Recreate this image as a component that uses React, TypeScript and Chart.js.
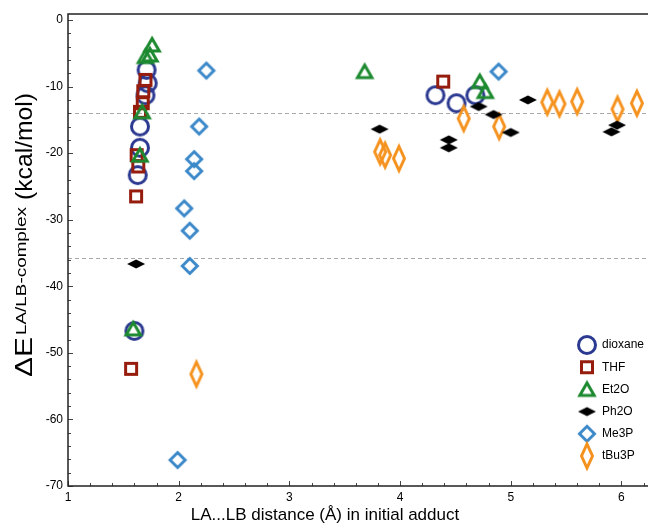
import React, { useEffect, useRef } from "react";
import { Chart, registerables } from "chart.js";

Chart.register(...registerables);

const FONT = "'Liberation Sans', Arial, Helvetica, sans-serif";

const seriesNames = ["dioxane", "THF", "Et2O", "Ph2O", "Me3P", "tBu3P"];
const seriesColors = ["#2b3990", "#961c0e", "#1d8a30", "#000000", "#3b88c9", "#f5921e"];

const dioxaneX = [1.71, 1.72, 1.70, 1.65, 1.65, 1.63, 1.60, 4.32, 4.51, 4.68];
const dioxaneY = [-7.5, -9.5, -11.3, -16.0, -19.2, -23.3, -46.7, -11.3, -12.5, -11.3];

const thfX = [1.70, 1.68, 1.675, 1.65, 1.62, 1.635, 1.615, 1.57, 4.39];
const thfY = [-9.0, -10.7, -12.5, -13.8, -20.3, -22.0, -26.5, -52.4, -9.25];

const et2oX = [1.76, 1.70, 1.74, 1.67, 1.65, 1.59, 3.68, 4.72, 4.77];
const et2oY = [-3.75, -5.5, -5.25, -13.8, -20.3, -46.4, -7.75, -9.25, -10.75];

const ph2oX = [1.615, 3.815, 4.44, 4.44, 4.71, 4.845, 5.0, 5.155, 5.96, 5.91];
const ph2oY = [-36.65, -16.4, -18.0, -19.2, -13.0, -14.2, -16.9, -12.0, -15.8, -16.8];

const me3pX = [2.25, 2.185, 2.14, 2.14, 2.05, 2.10, 2.10, 1.99, 4.89];
const me3pY = [-7.6, -16.0, -20.9, -22.7, -28.3, -31.65, -36.95, -66.1, -7.75];

const tbu3pX = [2.16, 3.82, 3.865, 3.99, 4.575, 4.895, 5.33, 5.44, 5.60, 5.965, 6.14];
const tbu3pY = [-53.2, -19.8, -20.3, -20.8, -14.8, -16.0, -12.35, -12.6, -12.25, -13.4, -12.5];

const xTickValues = [1, 2, 3, 4, 5, 6];
const yTickValues = [0, -10, -20, -30, -40, -50, -60, -70];
const referenceLines = [-14, -35.8];

const xTitle = "LA...LB distance (Å) in initial adduct";
const yTitleMain = "ΔE";
const yTitleSup = "LA/LB-complex";
const yTitleUnit = "(kcal/mol)";

function makeMarker(kind: string, color: string): HTMLCanvasElement {
  const c = document.createElement("canvas");
  const ctx = c.getContext("2d") as CanvasRenderingContext2D;
  const setup = (w: number, h: number) => {
    c.width = w;
    c.height = h;
    ctx.strokeStyle = color;
    ctx.fillStyle = color;
    ctx.lineWidth = 3;
    ctx.lineJoin = "miter";
  };
  if (kind === "circle") {
    setup(24, 24);
    ctx.beginPath();
    ctx.arc(12, 12, 8.5, 0, Math.PI * 2);
    ctx.stroke();
  } else if (kind === "square") {
    setup(16, 16);
    ctx.strokeRect(2.5, 2.5, 11, 11);
  } else if (kind === "triangle") {
    setup(22, 22);
    ctx.beginPath();
    ctx.moveTo(11, 4.5);
    ctx.lineTo(18.2, 17);
    ctx.lineTo(3.8, 17);
    ctx.closePath();
    ctx.stroke();
  } else if (kind === "flatDiamond") {
    setup(20, 12);
    ctx.beginPath();
    ctx.moveTo(1, 6);
    ctx.lineTo(10, 1.5);
    ctx.lineTo(19, 6);
    ctx.lineTo(10, 10.5);
    ctx.closePath();
    ctx.fill();
  } else if (kind === "diamond") {
    setup(22, 22);
    ctx.beginPath();
    ctx.moveTo(11, 3.5);
    ctx.lineTo(18.5, 11);
    ctx.lineTo(11, 18.5);
    ctx.lineTo(3.5, 11);
    ctx.closePath();
    ctx.stroke();
  } else {
    setup(18, 32);
    ctx.beginPath();
    ctx.moveTo(9, 4);
    ctx.lineTo(14.5, 16);
    ctx.lineTo(9, 28);
    ctx.lineTo(3.5, 16);
    ctx.closePath();
    ctx.stroke();
  }
  return c;
}

const markerKinds = ["circle", "square", "triangle", "flatDiamond", "diamond", "tallDiamond"];

export default function App() {
  const canvasRef = useRef<HTMLCanvasElement | null>(null);

  useEffect(() => {
    const canvas = canvasRef.current;
    if (!canvas) return;
    const xs = [dioxaneX, thfX, et2oX, ph2oX, me3pX, tbu3pX];
    const ys = [dioxaneY, thfY, et2oY, ph2oY, me3pY, tbu3pY];
    const markers = markerKinds.map((k, i) => makeMarker(k, seriesColors[i]));
    const drawOrder = [6, 5, 4, 1, 3, 2];

    const datasets = seriesNames.map((name, i) => ({
      label: name,
      data: xs[i].map((x, j) => ({ x, y: ys[i][j] })),
      pointStyle: markers[i] as any,
      pointRadius: 6,
      borderColor: seriesColors[i],
      backgroundColor: seriesColors[i],
      showLine: false,
      clip: false as any,
      order: drawOrder[i],
    }));

    const decor = {
      id: "decor",
      beforeDatasetsDraw(chart: any) {
        const { ctx, chartArea } = chart;
        const yScale = chart.scales.y;
        ctx.save();
        ctx.strokeStyle = "#a8a8a8";
        ctx.lineWidth = 1;
        ctx.setLineDash([4, 3]);
        referenceLines.forEach((v) => {
          const py = Math.round(yScale.getPixelForValue(v)) + 0.5;
          ctx.beginPath();
          ctx.moveTo(chartArea.left, py);
          ctx.lineTo(chartArea.right, py);
          ctx.stroke();
        });
        ctx.restore();
      },
      afterDraw(chart: any) {
        const { ctx, chartArea } = chart;
        const xScale = chart.scales.x;
        const yScale = chart.scales.y;
        const L = chartArea.left;
        const B = chartArea.bottom;
        const T = chartArea.top;
        const R = chartArea.right;
        ctx.save();
        // ticks (inward)
        ctx.strokeStyle = "#444";
        ctx.lineWidth = 1;
        for (let k = 0; k <= 26; k++) {
          const v = 1 + k * 0.2;
          if (v > 6.24) break;
          const px = Math.round(xScale.getPixelForValue(v)) + 0.5;
          const len = k % 5 === 0 ? 5 : 3;
          ctx.beginPath();
          ctx.moveTo(px, B);
          ctx.lineTo(px, B - len);
          ctx.stroke();
        }
        for (let k = 0; k <= 35; k++) {
          const v = -k * 2;
          const py = Math.round(yScale.getPixelForValue(v)) + 0.5;
          const len = k % 5 === 0 ? 5 : 3;
          ctx.beginPath();
          ctx.moveTo(L, py);
          ctx.lineTo(L + len, py);
          ctx.stroke();
        }
        // axes and top border
        ctx.strokeStyle = "#222";
        ctx.lineWidth = 1.5;
        ctx.beginPath();
        ctx.moveTo(R, T);
        ctx.lineTo(L, T);
        ctx.lineTo(L, B);
        ctx.lineTo(R, B);
        ctx.stroke();

        // x title
        ctx.fillStyle = "#000";
        ctx.font = `17px ${FONT}`;
        ctx.textAlign = "center";
        ctx.textBaseline = "alphabetic";
        ctx.fillText(xTitle, 325, 520);

        // y title (rotated)
        ctx.translate(32, 377);
        ctx.rotate(-Math.PI / 2);
        ctx.textAlign = "left";
        const drawStretched = (text: string, font: string, x: number, y: number, target: number) => {
          ctx.font = font;
          const w = ctx.measureText(text).width;
          ctx.save();
          ctx.translate(x, y);
          ctx.scale(target / w, 1);
          ctx.fillText(text, 0, 0);
          ctx.restore();
        };
        drawStretched(yTitleMain, `24px ${FONT}`, 0, 0, 40);
        drawStretched(yTitleSup, `15px ${FONT}`, 42, -6, 128);
        drawStretched(yTitleUnit, `24px ${FONT}`, 177, 0, 107);
        ctx.restore();

        // legend
        ctx.save();
        ctx.font = `12px ${FONT}`;
        ctx.fillStyle = "#000";
        ctx.textBaseline = "middle";
        ctx.textAlign = "left";
        seriesNames.forEach((name, i) => {
          const cy = 345 + i * 22.2;
          const m = markers[i];
          ctx.drawImage(m, 587 - m.width / 2, cy - m.height / 2);
          ctx.fillText(name, 602, cy);
        });
        ctx.restore();
      },
    };

    const chart = new Chart(canvas, {
      type: "scatter",
      data: { datasets: datasets as any },
      options: {
        responsive: false,
        animation: false,
        devicePixelRatio: 1,
        layout: { autoPadding: false, padding: { top: 14, right: 0, left: 0, bottom: 0 } },
        plugins: {
          legend: { display: false },
          tooltip: { enabled: false },
        },
        scales: {
          x: {
            type: "linear",
            min: 1,
            max: 6.24,
            grid: { display: false, drawTicks: false },
            border: { display: false },
            afterBuildTicks: (s: any) => {
              s.ticks = xTickValues.map((v) => ({ value: v }));
            },
            afterFit: (s: any) => {
              s.height = 37;
              s.paddingLeft = 0;
              s.paddingRight = 0;
            },
            ticks: {
              font: { family: FONT, size: 12 },
              color: "#000",
              padding: 4,
              maxRotation: 0,
              autoSkip: false,
              callback: (v: any) => String(v),
            },
          },
          y: {
            type: "linear",
            min: -70,
            max: 0.9,
            grid: { display: false, drawTicks: false },
            border: { display: false },
            afterBuildTicks: (s: any) => {
              s.ticks = yTickValues.map((v) => ({ value: v }));
            },
            afterFit: (s: any) => {
              s.width = 68;
              s.paddingTop = 0;
              s.paddingBottom = 0;
            },
            ticks: {
              font: { family: FONT, size: 12 },
              color: "#000",
              padding: 5,
              autoSkip: false,
              callback: (v: any) => String(v),
            },
          },
        },
      },
      plugins: [decor],
    });
    return () => chart.destroy();
  }, []);

  return (
    <div style={{ position: "absolute", left: 0, top: 0, width: 648, height: 523, background: "#fff" }}>
      <canvas ref={canvasRef} width={648} height={523} style={{ display: "block" }} />
    </div>
  );
}
